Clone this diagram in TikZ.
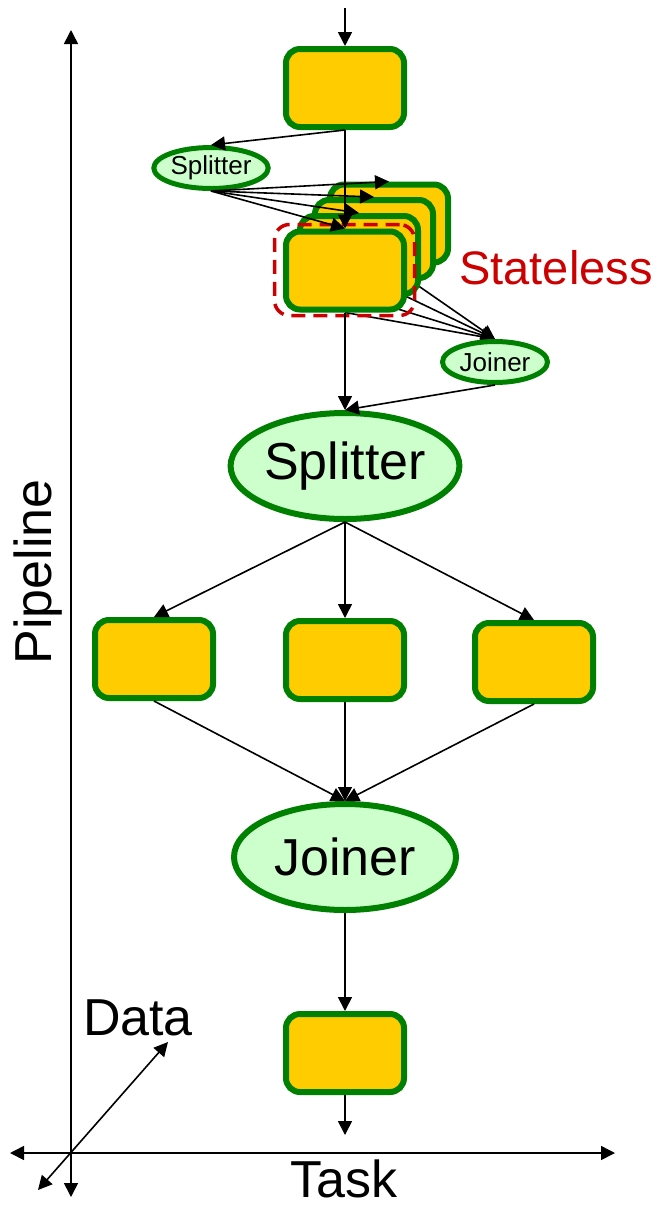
\documentclass[tikz,border=0pt]{standalone}
\usepackage{fontspec}
\setmainfont{Liberation Sans}
\usetikzlibrary{arrows.meta,shapes.geometric,backgrounds}

\definecolor{taskyellow}{HTML}{FFCC00}
\definecolor{taskgreen}{HTML}{008000}
\definecolor{sjgreen}{HTML}{CCFFCC}
\definecolor{statered}{HTML}{CC0000}

\begin{document}
\begin{tikzpicture}[
            x=1pt, y=-1pt,
            >={Triangle[length=14pt,width=14pt]}, % arrow head style
            ->,
            line width=1.6pt, % line style
            task/.style={draw=taskgreen, fill=taskyellow, line width=6pt,
            rounded corners=14pt, minimum width=118pt, minimum height=78pt,
            inner sep=0pt},
            bigsj/.style={ellipse, draw=taskgreen, fill=sjgreen, line width=6pt,
            minimum width=222pt, minimum height=106pt, inner sep=0pt,
            font=\fontsize{52}{60}\selectfont},
            smallsj/.style={ellipse, draw=taskgreen, fill=sjgreen, line width=5pt,
            minimum width=105pt, minimum height=41pt, inner sep=0pt,
            font=\fontsize{26}{30}\selectfont},
            statebox/.style={draw=statered, line width=3.5pt,
            dash pattern=on 14pt off 8pt, rounded corners=15pt,
            minimum width=140pt, minimum height=91pt},
            axislabel/.style={font=\fontsize{52}{60}\selectfont, inner sep=0pt}
            ]
            \useasboundingbox (0,0) rectangle (657,1205);

            \coordinate (in) at (345,8);
            \coordinate (out) at (345,1135);

            \node[task] (t1) at (345,88) {};
            \node[smallsj] (s1) at (211,168) {Splitter};

            % stateless copies, back to front
            \node[task] (st4) at (389,223.5) {};
            \node[task] (st3) at (374,239) {};
            \node[task] (st2) at (359,255) {};
            \node[task] (st1) at (345,270.5) {};
            \node[statebox] (sb) at (344.5,270) {};
            \node[axislabel, text=statered, font=\fontsize{47}{56}\selectfont]
            (stl) at (556,268) {Stateless};

            \node[smallsj] (j1) at (495,362) {Joiner};
            \node[bigsj] (s2) at (345,466) {Splitter};

            \node[task] (t2) at (154,659) {};
            \node[task] (t3) at (345,660) {};
            \node[task] (t4) at (534,662) {};

            \node[bigsj] (j2) at (345,857) {Joiner};
            \node[task] (t5) at (345,1053) {};

            \path (in) edge (t1.north);
            \path (t1.south) edge (s1.north);
            \path (t1.south) edge (st1.north);
            \path (s1.south) edge (st1.north);
            \path (s1.south) edge (st2.north);
            \path (s1.south) edge (st3.north);
            \path (s1.south) edge (st4.north);
            \begin{scope}[on background layer={line width=1.6pt}]
            \path (st1.south) edge (j1.north);
            \path (st2.south) edge (j1.north);
            \path (st3.south) edge (j1.north);
            \path (st4.south) edge (j1.north);
            \end{scope}
            \path (st1.south) edge (s2.north);
            \path (j1.south) edge (s2.north);

            \path (s2.south) edge (t2.north);
            \path (s2.south) edge (t3.north);
            \path (s2.south) edge (t4.north);
            \path (t2.south) edge (j2.north);
            \path (t3.south) edge (j2.north);
            \path (t4.south) edge (j2.north);
            \path (j2.south) edge (t5.north);
            \path (t5.south) edge (out);

            % axes
            \coordinate (vtop) at (71,30);
            \coordinate (vbot) at (71,1197);
            \coordinate (hleft) at (10,1153);
            \coordinate (hright) at (615,1153);
            \coordinate (dlow) at (38,1190);
            \coordinate (dhigh) at (168,1042);
            \draw[<->] (vbot) -- (vtop);
            \draw[<->] (hleft) -- (hright);
            \draw[<->] (dlow) -- (dhigh);

            \node[axislabel, rotate=90] (pipe) at (38,572) {Pipeline};
            \node[axislabel] (task) at (344,1179) {Task};
            \node[axislabel] (data) at (138,1018) {Data};
        \end{tikzpicture}
\end{document}
